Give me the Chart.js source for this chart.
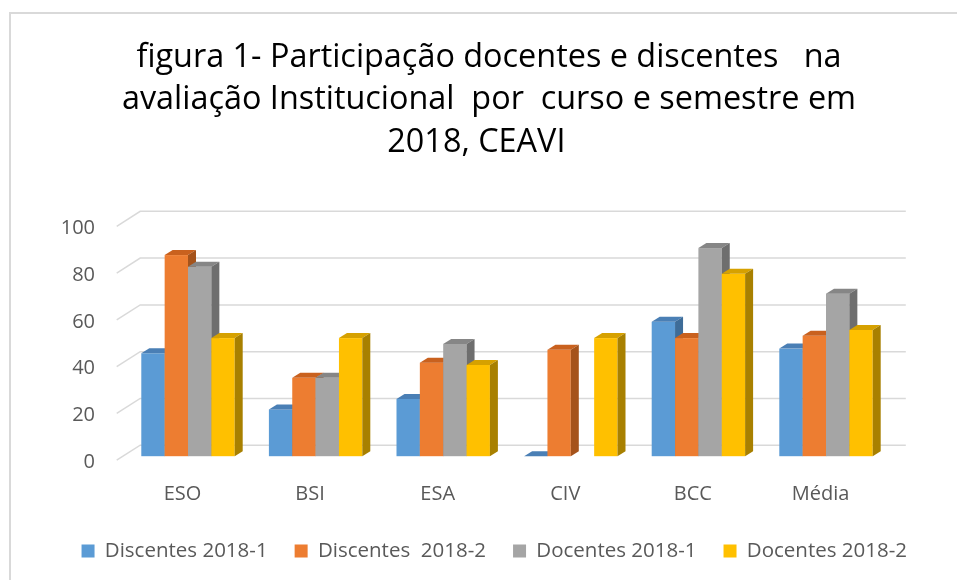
<!DOCTYPE html>
<html>
<head>
<meta charset="utf-8">
<script src="https://cdn.jsdelivr.net/npm/chart.js@4.4.1/dist/chart.umd.min.js"></script>
<style>
  html, body { margin: 0; padding: 0; background: #fff; }
</style>
</head>
<body>
<canvas id="grafico" width="957" height="580"></canvas>
<script>
// dados do grafico
const cursos = ["ESO", "BSI", "ESA", "CIV", "BCC", "Média"];
const discentes20181 = [44, 20, 24.5, 0, 57.5, 46];
const discentes20182 = [86, 33.5, 40, 45.5, 50.5, 51.5];
const docentes20181 = [81, 33.5, 48, null, 89, 69.5];
const docentes20182 = [50.5, 50.5, 39, 50.5, 78, 54];
const nomesSeries = ["Discentes 2018-1", "Discentes  2018-2", "Docentes 2018-1", "Docentes 2018-2"];
const yTicks = [0, 20, 40, 60, 80, 100];

const tituloLinhas = [
  "figura 1- Participação docentes e discentes   na",
  "avaliação Institucional  por  curso e semestre em",
  "2018, CEAVI   "
];

// cores das faces (frente, topo, lado)
const corFrente = ["#5B9BD5", "#ED7D31", "#A5A5A5", "#FFC000"];
const corTopo = ["#4A7FB5", "#C9611E", "#868686", "#D6A100"];
const corLado = ["#3E6C98", "#A5531B", "#6E6E6E", "#A88000"];

// "3D" offsets
const DX = 8, DY = -5;      // profundidade da barra
const OX = 5.5, OY = -3;    // plano das barras
const WX = 21.5, WY = -14;  // parede do fundo

function poligono(ctx, cor, pts) {
  ctx.fillStyle = cor;
  ctx.beginPath();
  ctx.moveTo(pts[0][0], pts[0][1]);
  for (let i = 1; i < pts.length; i++) ctx.lineTo(pts[i][0], pts[i][1]);
  ctx.closePath();
  ctx.fill();
}

const barras3d = {
  id: "barras3d",
  beforeDraw(chart) {
    const ctx = chart.ctx;
    ctx.save();
    ctx.fillStyle = "#fff";
    ctx.fillRect(0, 0, chart.width, chart.height);
    ctx.strokeStyle = "#D9D9D9";
    ctx.lineWidth = 2;
    ctx.strokeRect(10, 13, chart.width + 20, chart.height + 20);
    ctx.restore();
  },
  beforeDatasetsDraw(chart) {
    const { ctx, chartArea } = chart;
    const y = chart.scales.y;
    ctx.save();

    // linhas de grade no fundo + parede lateral
    ctx.strokeStyle = "#D9D9D9";
    ctx.lineWidth = 1.5;
    yTicks.forEach(v => {
      const py = y.getPixelForValue(v);
      ctx.beginPath();
      ctx.moveTo(chartArea.left - 2, py + 1);
      ctx.lineTo(chartArea.left + WX, py + WY);
      ctx.lineTo(chartArea.right + WX, py + WY);
      ctx.stroke();
    });

    // barras, curso a curso, da esquerda para a direita
    cursos.forEach((c, i) => {
      chart.data.datasets.forEach((ds, k) => {
        const el = chart.getDatasetMeta(k).data[i];
        if (ds.data[i] === null || !el) return;
        const x0 = el.x - el.width / 2 + OX;
        const x1 = el.x + el.width / 2 + OX;
        const yt = el.y + OY;
        const yb = el.base + OY;
        ctx.fillStyle = corFrente[k];
        ctx.fillRect(x0, yt, x1 - x0, yb - yt);
        poligono(ctx, corTopo[k], [[x0, yt], [x0 + DX, yt + DY], [x1 + DX, yt + DY], [x1, yt]]);
        poligono(ctx, corLado[k], [[x1, yt], [x1 + DX, yt + DY], [x1 + DX, yb + DY], [x1, yb]]);
      });
    });

    ctx.restore();
    return false;
  }
};

const fonte = "'Open Sans', 'Noto Sans', sans-serif";
const series = [discentes20181, discentes20182, docentes20181, docentes20182];

new Chart(document.getElementById("grafico"), {
  type: "bar",
  data: {
    labels: cursos,
    datasets: series.map((d, k) => ({
      label: nomesSeries[k],
      data: d,
      backgroundColor: corFrente[k],
      borderWidth: 0,
      barPercentage: 1,
      categoryPercentage: 0.732
    }))
  },
  plugins: [barras3d],
  options: {
    responsive: false,
    animation: false,
    devicePixelRatio: 1,
    layout: { padding: { left: 44, right: 23, top: 0, bottom: 8.7 } },
    plugins: {
      title: {
        display: true,
        text: tituloLinhas,
        color: "#000",
        font: { family: fonte, size: 32.4, weight: "normal", lineHeight: 1.31 },
        padding: { top: 36.5, bottom: 61.5 }
      },
      legend: {
        position: "bottom",
        align: "end",
        labels: {
          color: "#595959",
          font: { family: fonte, size: 20.5 },
          boxWidth: 13,
          boxHeight: 13,
          padding: 27
        }
      },
      tooltip: { enabled: false }
    },
    scales: {
      x: {
        grid: { display: false, drawTicks: false },
        border: { display: false },
        ticks: { color: "#595959", font: { family: fonte, size: 20 }, padding: 23.5 },
        afterFit: s => { s.height = 54.6; }
      },
      y: {
        min: 0,
        max: 100,
        grid: { display: false, drawTicks: false },
        border: { display: false },
        ticks: { stepSize: 20, color: "#595959", font: { family: fonte, size: 20 }, padding: 23.7, labelOffset: 3 },
        afterFit: s => { s.width = 74.7; }
      },
      direita: {
        position: "right",
        grid: { display: false, drawTicks: false },
        border: { display: false },
        ticks: { display: false },
        afterFit: s => { s.width = 49.7; }
      }
    }
  }
});
</script>
</body>
</html>
